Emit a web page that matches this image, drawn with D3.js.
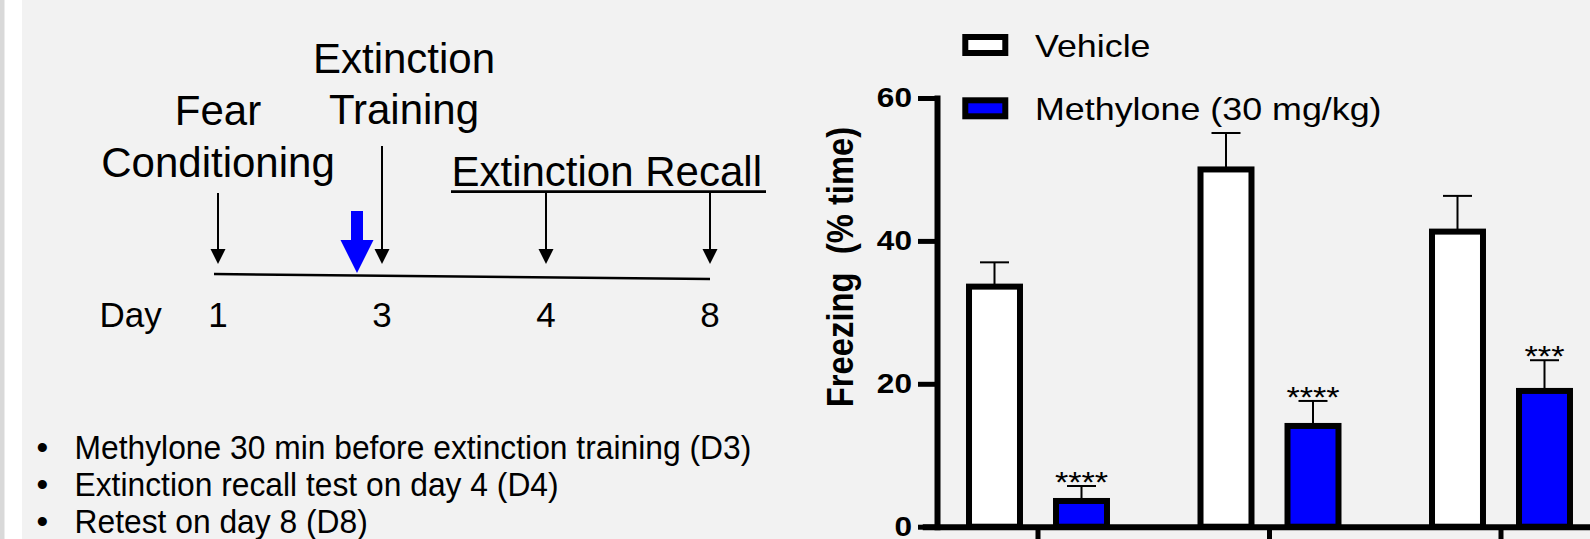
<!DOCTYPE html>
<html lang="en">
<head>
<meta charset="utf-8">
<style>
  html, body { margin: 0; padding: 0; background: #f2f2f2; }
  svg { display: block; font-family: "Liberation Sans", Arial, sans-serif; }
</style>
</head>
<body>
<div id="chart"></div>
<script src="https://d3js.org/d3.v7.min.js"></script>
<script>
// data
var days = ["D3", "D4", "D8"];
var groups = ["Vehicle", "Methylone (30 mg/kg)"];
var vehicleMean = [33.6, 50.0, 41.3];
var vehicleSem = [3.4, 5.1, 5.0];
var methyMean = [3.6, 14.1, 19.0];
var methySem = [2.1, 3.5, 4.3];
var stars = ["****", "****", "***"];
var yTicks = [0, 20, 40, 60];

var timelineDays = ["1", "3", "4", "8"];
var bullets = [
  "Methylone 30 min before extinction training (D3)",
  "Extinction recall test on day 4 (D4)",
  "Retest on day 8 (D8)"
];

var width = 1590, height = 539;
var fills = { "Vehicle": "#ffffff", "Methylone (30 mg/kg)": "#0000ff" };

var svg = d3.select("#chart").append("svg")
  .attr("width", width)
  .attr("height", height);

svg.append("rect").attr("width", width).attr("height", height).attr("fill", "#f2f2f2");
// slide edge
svg.append("rect").attr("x", 0).attr("width", 22).attr("height", height).attr("fill", "#ffffff");
svg.append("rect").attr("x", 0).attr("width", 4.5).attr("height", height).attr("fill", "#d9d9d9");

// ---------- left: protocol timeline ----------
var left = svg.append("g");
var tx = d3.scalePoint().domain(timelineDays).range([218, 710]);

function headDown(x, tip, w, h) {
  return "M" + (x - w / 2) + "," + (tip - h) + "L" + (x + w / 2) + "," + (tip - h) + "L" + x + "," + tip + "Z";
}

// timeline line
left.append("line")
  .attr("x1", tx("1") - 4).attr("y1", 274)
  .attr("x2", tx("8")).attr("y2", 279)
  .attr("stroke", "#000").attr("stroke-width", 2.5);

// black arrows
var arrowTops = { "1": 193, "3": 146, "4": 192, "8": 192 };
timelineDays.forEach(function(d) {
  var x = tx(d);
  left.append("line")
    .attr("x1", x).attr("x2", x)
    .attr("y1", arrowTops[d]).attr("y2", 252)
    .attr("stroke", "#000").attr("stroke-width", 2);
  left.append("path").attr("d", headDown(x, 264, 15, 15)).attr("fill", "#000");
});

// blue (drug) arrow
var bx = tx("3") - 25;
left.append("rect")
  .attr("x", bx - 6).attr("y", 211).attr("width", 12).attr("height", 30)
  .attr("fill", "#0000ff");
left.append("path").attr("d", headDown(bx, 273, 33, 33)).attr("fill", "#0000ff");

// labels
function ltext(str, x, y, size, anchor) {
  return left.append("text")
    .attr("x", x).attr("y", y)
    .attr("font-size", size)
    .attr("text-anchor", anchor || "middle")
    .attr("fill", "#000")
    .text(str);
}
ltext("Fear", tx("1"), 125, 42);
ltext("Conditioning", tx("1"), 177, 42);
ltext("Extinction", tx("3") + 22, 73, 42);
ltext("Training", tx("3") + 22, 124, 42);
ltext("Extinction Recall", 451.5, 186, 42, "start");
left.append("line")
  .attr("x1", 451).attr("x2", 766)
  .attr("y1", 191.7).attr("y2", 191.7)
  .attr("stroke", "#000").attr("stroke-width", 2.7);

ltext("Day", 99.5, 326.7, 35, "start");
timelineDays.forEach(function(d) {
  ltext(d, tx(d), 326.7, 35);
});

// bullet list (text is slightly condensed in the slide)
bullets.forEach(function(b, i) {
  var y = 458.5 + i * 37;
  ltext("\u2022", 42.3, y, 33.3);
  left.append("text")
    .attr("transform", "translate(74.5," + y + ") scale(0.955,1)")
    .attr("font-size", 33.3)
    .attr("fill", "#000")
    .text(b);
});

// ---------- right: bar chart ----------
var y = d3.scaleLinear().domain([0, 60]).range([526.7, 98]);
var x0 = d3.scaleBand().domain(days).range([922.25, 1616.75]).padding(0);
var x1 = d3.scaleBand().domain(groups).range([-87, 87]).paddingInner(0.414).paddingOuter(0.207);
var stretch = 1.14;

var rows = [];
days.forEach(function(d, i) {
  rows.push({ day: d, group: groups[0], mean: vehicleMean[i], sem: vehicleSem[i], star: "" });
  rows.push({ day: d, group: groups[1], mean: methyMean[i], sem: methySem[i], star: stars[i] });
});

var chart = svg.append("g");

// x axis (baseline)
var xAxis = chart.append("g")
  .attr("transform", "translate(0," + y(0) + ")")
  .call(d3.axisBottom(x0).tickSize(20).tickSizeOuter(0).tickFormat(""));
xAxis.select(".domain").attr("stroke-width", 6);
xAxis.selectAll(".tick line").attr("stroke-width", 5);

// bars
var bar = chart.selectAll(".bar")
  .data(rows)
  .enter().append("g")
  .attr("class", "bar")
  .attr("transform", function(d) { return "translate(" + (x0(d.day) + x0.bandwidth() / 2) + ",0)"; });

// error bars (upper only)
bar.append("line")
  .attr("x1", function(d) { return x1(d.group) + x1.bandwidth() / 2; })
  .attr("x2", function(d) { return x1(d.group) + x1.bandwidth() / 2; })
  .attr("y1", function(d) { return y(d.mean); })
  .attr("y2", function(d) { return y(d.mean + d.sem); })
  .attr("stroke", "#000").attr("stroke-width", 2);
bar.append("line")
  .attr("x1", function(d) { return x1(d.group) + x1.bandwidth() / 2 - 14.5; })
  .attr("x2", function(d) { return x1(d.group) + x1.bandwidth() / 2 + 14.5; })
  .attr("y1", function(d) { return y(d.mean + d.sem); })
  .attr("y2", function(d) { return y(d.mean + d.sem); })
  .attr("stroke", "#000").attr("stroke-width", 2);

bar.append("rect")
  .attr("x", function(d) { return x1(d.group); })
  .attr("width", x1.bandwidth())
  .attr("y", function(d) { return y(d.mean); })
  .attr("height", function(d) { return y(0) - y(d.mean); })
  .attr("fill", function(d) { return fills[d.group]; })
  .attr("stroke", "#000").attr("stroke-width", 6);

// significance stars
bar.filter(function(d) { return d.star; })
  .append("text")
  .attr("transform", function(d) {
    return "translate(" + (x1(d.group) + x1.bandwidth() / 2) + "," + (y(d.mean + d.sem) + 6) + ") scale(" + stretch + ",1)";
  })
  .attr("text-anchor", "middle")
  .attr("font-size", 30)
  .text(function(d) { return d.star; });

// y axis
var yAxis = chart.append("g")
  .attr("transform", "translate(937,0)")
  .call(d3.axisLeft(y).tickValues(yTicks).tickSize(19).tickSizeOuter(0).tickPadding(6));
yAxis.select(".domain").attr("stroke-width", 6).attr("stroke-linecap", "square");
yAxis.selectAll(".tick line").attr("stroke-width", 5);
yAxis.selectAll(".tick text")
  .attr("font-size", 27)
  .attr("font-weight", "bold")
  .attr("font-family", "'Liberation Sans', Arial, sans-serif")
  .attr("fill", "#000")
  .attr("x", -25 / 1.17)
  .attr("transform", "scale(1.17,1)");

// y label
chart.append("text")
  .attr("transform", "translate(853,267) scale(" + stretch + ",1) rotate(-90)")
  .attr("text-anchor", "middle")
  .attr("font-size", 32.8)
  .attr("font-weight", "bold")
  .style("white-space", "pre")
  .text("Freezing  (% time)");

// legend
var legend = chart.selectAll(".legend")
  .data(groups)
  .enter().append("g")
  .attr("class", "legend")
  .attr("transform", function(d, i) { return "translate(965.3," + (37 + i * 63.3) + ")"; });
legend.append("rect")
  .attr("width", 40).attr("height", 16)
  .attr("fill", function(d) { return fills[d]; })
  .attr("stroke", "#000").attr("stroke-width", 6);
legend.append("text")
  .attr("transform", "translate(69.7,19.7) scale(1.12,1)")
  .attr("font-size", 32)
  .text(function(d) { return d; });
</script>
</body>
</html>
